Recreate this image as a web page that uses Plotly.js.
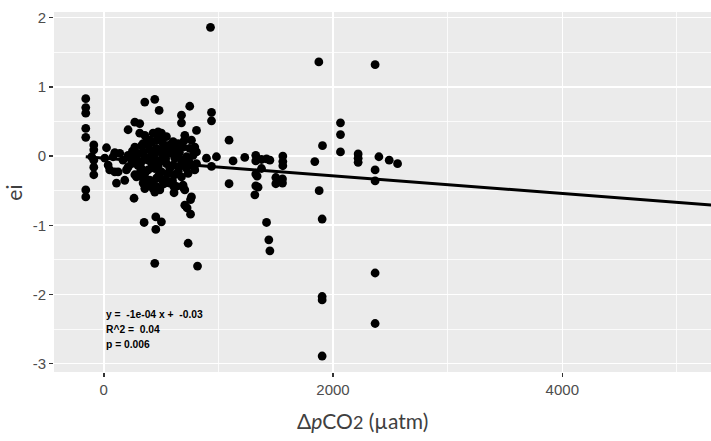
<!DOCTYPE html>
<html>
<head>
<meta charset="utf-8">
<script src="https://cdn.plot.ly/plotly-3.0.1.min.js"></script>
<style>html,body{margin:0;padding:0;background:#fff;}#chart{width:711px;height:441px;}</style>
</head>
<body>
<div id="chart"></div>
<script>
// Observations: delta pCO2 (µatm) and residual ei
const dpco2 = [
  -157,-157,-157,-157,-157,-157,-157,-105,-87,-87,-87,-87,-87,
  24,9,52,96,38,111,183,212,271,314,212,271,358,445,483,264,
  678,678,750,707,809,765,940,940,896,983,940,1093,1128,1093,
  1230,1326,1326,1326,1326,1376,1376,1338,1346,1318,1420,1449,
  1501,1501,1559,1559,1562,1562,1562,1841,1908,1879,2065,2065,2065,
  2219,2219,2219,2400,2490,2563,2367,2367,2367,2367,2367,931,1876,
  352,454,503,454,445,707,727,757,736,818,757,1420,1440,1449,
  1905,1905,1905,1905,343,401,358,445,460,526,489,611,613,692,707,765,
  314,358,373,430,474,489,547,605,648,692,750,794,809,779,722,678,
  620,576,518,460,401,343,299,271,329,387,445,489,547,605,663,722,
  765,809,329,387,445,503,561,620,678,736,794,285,343,401,460,518,
  576,634,692,373,430,489,314,227,242,198,168,140,81,125,343,401,
  518,576,634,460,416,518,648,474,576,358,212,271,285,503,96,
  330,390,420,450,510,540,600,660,700,420,480,540,600,650,360,420,
  560,620,700,740,300,250
];
const ei = [
  0.83,0.70,0.62,0.40,0.27,-0.49,-0.59,-0.01,0.16,0.09,-0.06,-0.16,-0.27,
  0.12,-0.03,-0.20,0.05,-0.13,-0.39,-0.35,0.38,0.49,0.47,-0.16,-0.27,0.78,0.82,0.66,-0.61,
  0.59,0.48,0.72,0.30,0.37,0.23,0.63,0.51,-0.03,-0.01,-0.15,0.23,-0.07,-0.40,
  -0.02,0.01,-0.07,-0.26,-0.43,-0.18,-0.05,-0.29,-0.45,-0.56,-0.04,-0.06,
  -0.31,-0.40,-0.33,-0.39,0.00,-0.08,-0.14,-0.08,0.15,-0.50,0.48,0.31,0.06,
  0.03,-0.03,-0.09,-0.01,-0.06,-0.11,-0.20,-0.36,1.32,-1.69,-2.42,1.86,1.36,
  -0.96,-0.88,-0.95,-1.06,-1.55,-0.71,-0.75,-0.84,-1.26,-1.59,-0.63,-0.96,-1.21,-1.37,
  -0.91,-2.03,-2.08,-2.89,-0.39,-0.42,-0.47,-0.52,-0.44,-0.40,-0.47,-0.44,-0.53,-0.45,-0.49,-0.59,
  0.33,0.30,0.21,0.33,0.35,0.26,0.28,0.21,0.18,0.13,0.11,0.13,0.06,0.01,-0.01,-0.06,
  -0.03,0.04,0.09,0.11,0.09,0.06,0.04,-0.06,-0.08,-0.06,-0.03,-0.08,-0.11,-0.13,-0.15,-0.18,
  -0.13,-0.11,-0.18,-0.20,-0.18,-0.23,-0.25,-0.27,-0.30,-0.25,-0.20,-0.30,-0.32,-0.35,-0.32,-0.37,
  -0.39,-0.44,-0.42,-0.44,-0.47,-0.49,-0.25,-0.01,-0.11,-0.20,-0.06,0.04,-0.01,-0.23,0.18,0.23,
  0.18,0.16,0.09,0.23,0.01,-0.01,0.01,-0.15,-0.18,-0.01,0.01,0.13,-0.01,0.33,-0.23,
  0.15,0.15,0.20,0.05,0.03,-0.04,0.06,0.05,-0.10,-0.12,-0.28,-0.33,-0.36,-0.22,-0.25,-0.38,
  0.10,0.12,0.22,-0.06,-0.14,0.07
];
// Fitted regression line (as drawn in the reference)
const fitSlope = -1.28e-4;
const fitIntercept = -0.03;
const fitX = [-157, 5600];
const fitLabels = ["y =  -1e-04 x +  -0.03", "R^2 =  0.04", "p = 0.006"];
const fitLabelY = [-2.29, -2.50, -2.73];
const xTickVals = [0, 2000, 4000];
const yTickVals = [-3, -2, -1, 0, 1, 2];

const fitY = fitX.map(x => fitIntercept + fitSlope * x);

const traces = [
  {type:'scatter', mode:'markers', x:dpco2, y:ei,
   marker:{color:'#000', size:8.8}, hoverinfo:'skip'},
  {type:'scatter', mode:'lines', x:fitX, y:fitY,
   line:{color:'#000', width:3}, hoverinfo:'skip'}
];

const annFont = {family:'Liberation Sans, Arial, sans-serif', size:10.3, color:'#000', weight:'bold'};
const annotations = fitLabels.map((t,i) => ({
  x:0, y:fitLabelY[i], xref:'x', yref:'y', text:t, showarrow:false,
  xanchor:'left', yanchor:'middle', font:annFont
}));
annotations.push({
  x:0.47, y:-0.095, xref:'paper', yref:'paper', yanchor:'top', xanchor:'center',
  text:'Δ<i>p</i>CO<span style="font-size:18px">2</span> (µatm)', showarrow:false,
  font:{family:'Lato, sans-serif', size:21, color:'#404040'}
});
annotations.push({
  x:-0.063, y:0.497, xref:'paper', yref:'paper', xanchor:'center', yanchor:'middle',
  text:'ei', textangle:-90, showarrow:false,
  font:{family:'Lato, sans-serif', size:21, color:'#404040'}
});

const tickFont = {family:'Liberation Sans, Arial, sans-serif', size:15, color:'#4D4D4D'};
const layout = {
  width:711, height:441,
  margin:{l:54, r:0, t:12, b:69, pad:0},
  paper_bgcolor:'#fff', plot_bgcolor:'#EBEBEB',
  showlegend:false,
  xaxis:{range:[-434, 5297], tickvals:xTickVals, ticktext:xTickVals.map(String),
         showgrid:true, gridcolor:'#fff', gridwidth:1.6, zeroline:false,
         ticks:'outside', ticklen:4, tickwidth:1.5, tickcolor:'#333',
         tickfont:tickFont, showline:false,
         minor:{tickvals:[1000,3000,5000], showgrid:true, gridcolor:'#fff', gridwidth:0.8, ticks:''}},
  yaxis:{range:[-3.121, 2.082], tickvals:yTickVals, ticktext:yTickVals.map(String),
         showgrid:true, gridcolor:'#fff', gridwidth:1.6, zeroline:false,
         ticks:'outside', ticklen:4, tickwidth:1.5, tickcolor:'#333',
         tickfont:tickFont, showline:false,
         minor:{tickvals:[-2.5,-1.5,-0.5,0.5,1.5], showgrid:true, gridcolor:'#fff', gridwidth:0.8, ticks:''}},
  annotations:annotations
};
Plotly.newPlot('chart', traces, layout, {staticPlot:true, displayModeBar:false});
</script>
</body>
</html>
